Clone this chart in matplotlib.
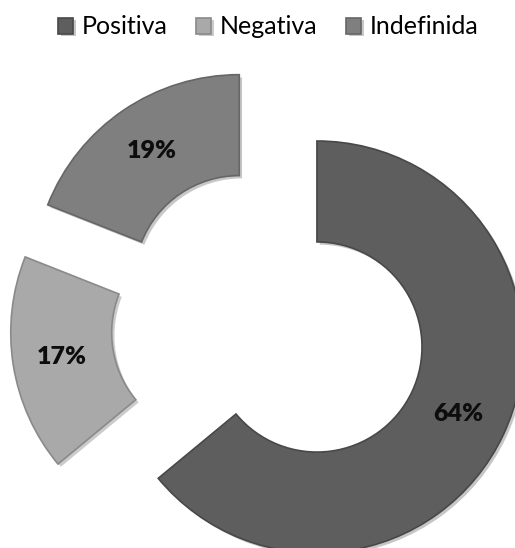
import matplotlib.pyplot as plt
import matplotlib.patheffects as pe

# Data
labels = ['Positiva', 'Negativa', 'Indefinida']
shares = [64, 17, 19]
colors = ['#5e5e5e', '#a9a9a9', '#7f7f7f']
edges = ['#484848', '#8a8a8a', '#666666']

plt.rcParams['font.family'] = ['Lato', 'DejaVu Sans']

fig = plt.figure(figsize=(5.15, 5.48), dpi=100)
ax = fig.add_axes([0, 0, 1, 1])

wedges, texts, autotexts = ax.pie(
    shares, colors=colors, startangle=90, counterclock=False,
    explode=[0.257] * len(shares), radius=1.0,
    autopct='%1.0f%%', pctdistance=0.76,
    wedgeprops=dict(width=0.49, linewidth=1.2),
    textprops=dict(fontsize=18, fontweight='heavy', color='#0d0d0d'))

# soft shadow and a slightly darker rim to hint at the bevel
for w, ec in zip(wedges, edges):
    w.set_edgecolor(ec)
    w.set_path_effects([pe.SimplePatchShadow(offset=(2, -2), alpha=0.25),
                        pe.Normal()])

ax.set_xlim(-1.306, 1.194)
ax.set_ylim(-1.085, 1.575)
ax.set_aspect('equal')
ax.axis('off')

fig.legend(wedges, labels, loc='upper center', bbox_to_anchor=(0.521, 0.997),
           ncol=3, frameon=False, fontsize=18, handlelength=0.6,
           handleheight=0.6, handletextpad=0.35, columnspacing=1.15,
           borderaxespad=0.15)

plt.savefig('out.png', dpi=100)
